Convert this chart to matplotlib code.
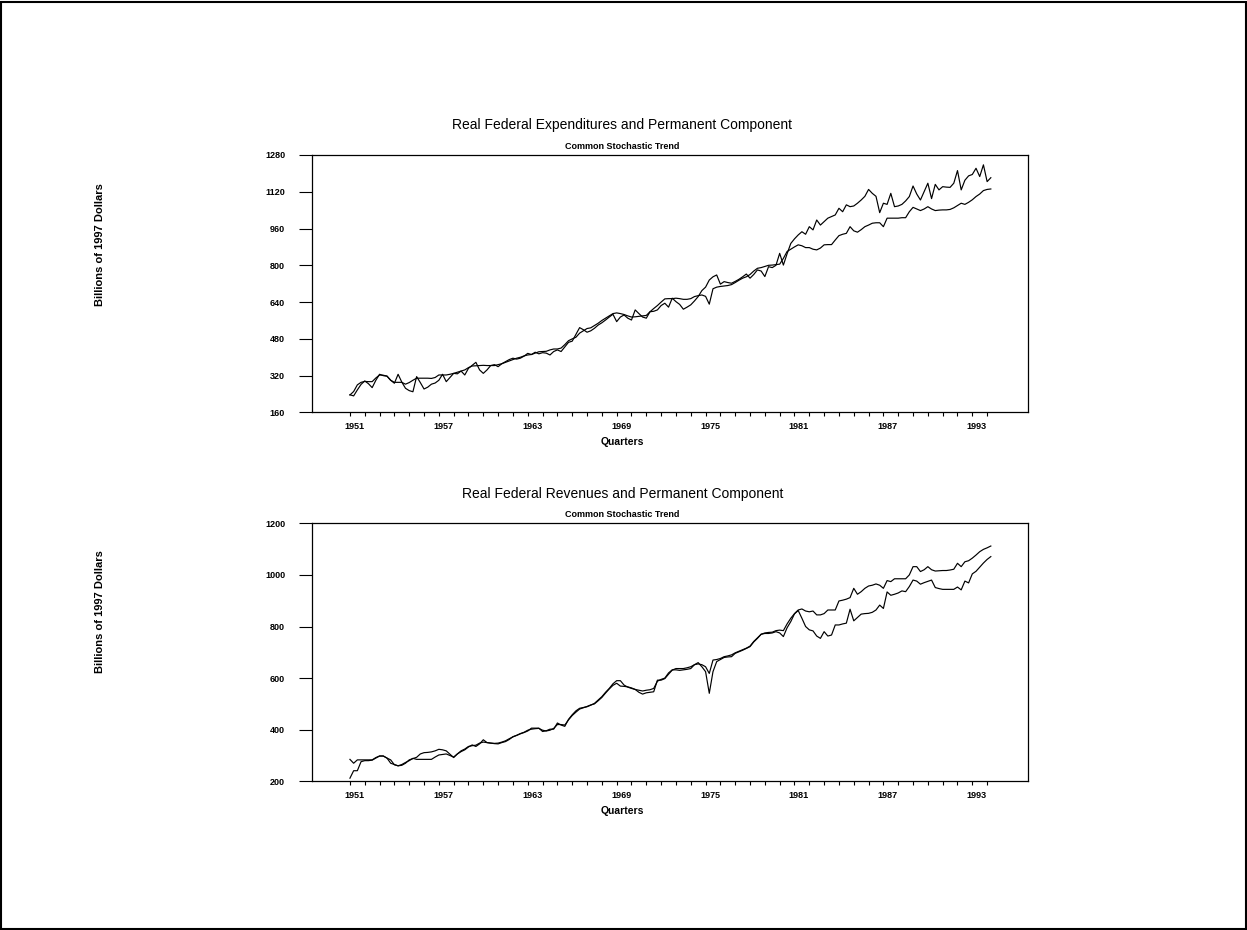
import numpy as np
import matplotlib
matplotlib.use('Agg')
import matplotlib.pyplot as plt
from matplotlib.patches import Rectangle
from matplotlib.transforms import ScaledTranslation

# quarterly data, 1951Q1 - 1994Q2 (billions of 1987 dollars)
exp_actual = [237, 232, 258, 282, 297, 285, 268, 300, 326, 320, 318, 300,
              287, 326, 292, 265, 255, 250, 316, 290, 262, 270, 283, 288,
              300, 326, 294, 312, 330, 328, 340, 323, 352, 365, 378, 345,
              330, 345, 364, 368, 359, 372, 381, 390, 396, 392, 396, 405,
              417, 412, 422, 415, 420, 418, 410, 425, 432, 425, 445, 465,
              470, 500, 529, 520, 509, 515, 526, 540, 550, 562, 575, 587,
              555, 575, 584, 570, 562, 606, 590, 575, 570, 598, 600, 606,
              625, 635, 618, 657, 642, 630, 609, 618, 628, 645, 664, 690,
              705, 736, 750, 758, 718, 729, 725, 722, 730, 739, 750, 762,
              744, 760, 780, 775, 751, 794, 790, 800, 852, 801, 850, 895,
              915, 932, 946, 935, 968, 954, 997, 975, 990, 1005, 1012, 1019,
              1048, 1033, 1063, 1055, 1058, 1070, 1084, 1100, 1130, 1113, 1100, 1029,
              1070, 1065, 1113, 1055, 1058, 1065, 1080, 1099, 1145, 1110, 1084, 1120,
              1157, 1090, 1152, 1128, 1142, 1140, 1139, 1157, 1212, 1128, 1170, 1189,
              1195, 1222, 1186, 1237, 1164, 1181]
exp_perm = [236, 251, 280, 291, 295, 294, 294, 310, 323, 322, 318, 300,
            291, 291, 291, 283, 290, 300, 309, 309, 309, 309, 308, 312,
            323, 323, 323, 326, 330, 335, 340, 345, 355, 362, 363, 364,
            365, 364, 364, 364, 368, 372, 378, 384, 390, 396, 400, 406,
            410, 412, 418, 424, 425, 426, 432, 436, 436, 440, 455, 472,
            480, 487, 505, 515, 525, 528, 538, 548, 560, 570, 580, 590,
            593, 590, 586, 580, 575, 576, 578, 580, 582, 598, 612, 625,
            640, 654, 655, 655, 657, 655, 652, 652, 655, 664, 668, 671,
            665, 631, 698, 705, 708, 710, 712, 716, 725, 735, 744, 750,
            760, 775, 787, 790, 795, 800, 801, 803, 805, 830, 860, 870,
            880, 889, 885, 877, 877, 870, 867, 875, 889, 890, 890, 910,
            929, 935, 939, 968, 950, 944, 955, 968, 975, 983, 985, 985,
            968, 1005, 1005, 1005, 1005, 1007, 1007, 1033, 1052, 1045, 1038, 1045,
            1055, 1045, 1038, 1040, 1041, 1041, 1043, 1050, 1060, 1070, 1065, 1074,
            1085, 1099, 1110, 1125, 1130, 1132]

rev_actual = [212, 241, 241, 276, 280, 280, 282, 290, 298, 298, 290, 283,
              264, 260, 262, 270, 283, 288, 293, 306, 311, 312, 314, 318,
              324, 322, 318, 305, 292, 306, 315, 322, 333, 341, 335, 345,
              361, 350, 348, 346, 345, 350, 354, 362, 373, 378, 384, 389,
              395, 406, 406, 406, 393, 396, 402, 402, 426, 418, 413, 440,
              458, 473, 483, 486, 489, 495, 502, 515, 528, 545, 560, 578,
              590, 590, 573, 565, 560, 556, 545, 538, 543, 545, 547, 592,
              592, 598, 615, 631, 637, 637, 637, 640, 644, 652, 660, 644,
              625, 541, 625, 664, 672, 680, 682, 683, 696, 702, 708, 715,
              722, 740, 754, 770, 773, 773, 775, 780, 775, 761, 795, 819,
              849, 862, 832, 800, 787, 783, 763, 754, 780, 763, 767, 806,
              806, 810, 813, 867, 822, 835, 848, 850, 851, 855, 864, 883,
              870, 934, 921, 925, 930, 938, 935, 955, 980, 976, 964, 970,
              975, 980, 951, 947, 944, 944, 944, 944, 953, 942, 976, 969,
              1004, 1014, 1030, 1046, 1060, 1071]
rev_perm = [285, 270, 283, 283, 283, 283, 283, 292, 298, 298, 290, 270,
            265, 260, 265, 273, 280, 289, 285, 285, 285, 285, 285, 294,
            302, 304, 306, 300, 294, 306, 318, 325, 335, 338, 340, 348,
            352, 350, 348, 347, 348, 352, 357, 365, 372, 378, 385, 390,
            398, 402, 404, 405, 398, 395, 398, 405, 420, 420, 418, 438,
            455, 468, 480, 485, 490, 496, 500, 512, 525, 542, 558, 572,
            580, 569, 568, 566, 562, 556, 553, 550, 553, 555, 560, 588,
            595, 600, 620, 632, 632, 630, 632, 634, 637, 652, 655, 652,
            644, 618, 670, 672, 676, 683, 686, 690, 698, 704, 710, 716,
            724, 742, 756, 770, 775, 777, 778, 784, 786, 784, 810, 832,
            850, 864, 868, 860, 857, 860, 845, 845, 850, 864, 864, 864,
            899, 902, 906, 912, 948, 925, 935, 948, 957, 960, 965, 960,
            948, 978, 974, 985, 985, 985, 985, 1000, 1032, 1032, 1013, 1020,
            1032, 1020, 1015, 1016, 1017, 1017, 1019, 1022, 1045, 1032, 1051, 1055,
            1065, 1077, 1090, 1099, 1105, 1112]

quarters = 1951 + np.arange(len(exp_actual)) / 4.0
label_years = [1951, 1957, 1963, 1969, 1975, 1981, 1987, 1993]
tick_years = list(range(1951, 1995))
exp_yticks = [160, 320, 480, 640, 800, 960, 1120, 1280]
rev_yticks = [200, 400, 600, 800, 1000, 1200]

# narrow faces first, the original uses a condensed stroke font
plt.rcParams['font.family'] = ['Liberation Sans Narrow', 'Liberation Sans', 'DejaVu Sans']

fig = plt.figure(figsize=(12.47, 9.30), dpi=100)
fig.patches.append(Rectangle((0.001, 0.001), 0.998, 0.997, transform=fig.transFigure,
                             fill=False, edgecolor='black', lw=1.5))

ax1 = fig.add_axes([0.2502, 0.5565, 0.5742, 0.2769])
ax2 = fig.add_axes([0.2502, 0.1599, 0.5742, 0.2774])


def setup(ax, yticks):
    ax.set_xlim(1948.44, 1996.76)
    ax.set_ylim(yticks[0], yticks[-1])
    ax.set_xticks(label_years)
    ax.set_xticks(tick_years, minor=True)
    ax.set_xticklabels([str(y) for y in label_years])
    ax.set_yticks(yticks)
    ax.set_yticklabels([str(v) for v in yticks])
    ax.tick_params(axis='x', which='both', direction='out', length=3, width=0.8,
                   pad=4, labelsize=6.5)
    ax.tick_params(axis='y', direction='out', length=9.4, width=0.8,
                   pad=10, labelsize=6.5)
    for lab in ax.get_xticklabels() + ax.get_yticklabels():
        lab.set_fontweight('bold')
    for lab in ax.get_xticklabels():
        lab.set_transform(lab.get_transform() + ScaledTranslation(0.045, 0, fig.dpi_scale_trans))
    for s in ax.spines.values():
        s.set_linewidth(0.9)


ax1.plot(quarters, exp_actual, color='black', lw=0.85)
ax1.plot(quarters, exp_perm, color='black', lw=0.85)
setup(ax1, exp_yticks)

ax2.plot(quarters, rev_actual, color='black', lw=0.85)
ax2.plot(quarters, rev_perm, color='black', lw=0.85)
setup(ax2, rev_yticks)

# titles are centred on the page, not on the axes
fig.text(0.499, 0.866, 'Real Federal Expenditures and Permanent Component',
         ha='center', va='center', fontsize=10)
fig.text(0.499, 0.843, 'Common Stochastic Trend', ha='center', va='center',
         fontsize=6.5, fontweight='bold')
fig.text(0.499, 0.525, 'Quarters', ha='center', va='center', fontsize=7.5,
         fontweight='bold')
fig.text(0.080, 0.737, 'Billions of 1997 Dollars', rotation=90, ha='center',
         va='center', fontsize=8, fontweight='bold')

fig.text(0.499, 0.469, 'Real Federal Revenues and Permanent Component',
         ha='center', va='center', fontsize=10)
fig.text(0.499, 0.447, 'Common Stochastic Trend', ha='center', va='center',
         fontsize=6.5, fontweight='bold')
fig.text(0.499, 0.128, 'Quarters', ha='center', va='center', fontsize=7.5,
         fontweight='bold')
fig.text(0.080, 0.342, 'Billions of 1997 Dollars', rotation=90, ha='center',
         va='center', fontsize=8, fontweight='bold')

fig.savefig('out.png', dpi=100)
